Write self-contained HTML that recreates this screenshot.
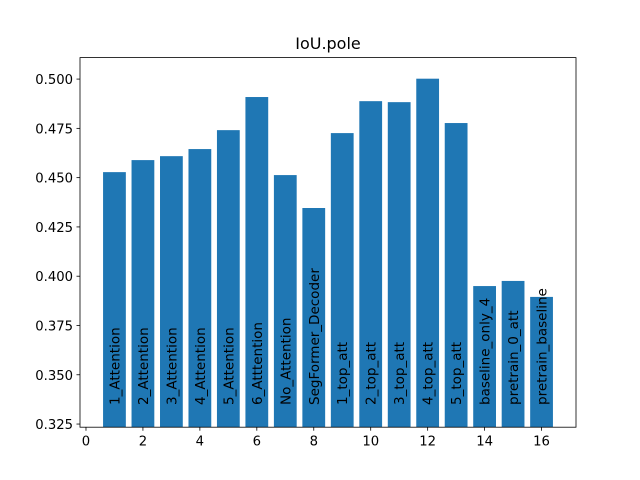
<!DOCTYPE html>
<html><head><meta charset="utf-8"><style>body{margin:0;background:#fff}svg{display:block;font-family:"DejaVu Sans","Liberation Sans",sans-serif}</style></head>
<body>
<svg id="chart" width="640" height="480" xmlns="http://www.w3.org/2000/svg">
<rect width="640" height="480" fill="#fff"/>
<text x="328" y="49" font-size="16" text-anchor="middle">IoU.pole</text>
<g id="bars"></g><g id="labels"></g><g id="axes"></g>
</svg>
<script>
const categories = ["1_Attention","2_Attention","3_Attention","4_Attention","5_Attention","6_Atttention","No_Attention","SegFormer_Decoder","1_top_att","2_top_att","3_top_att","4_top_att","5_top_att","baseline_only_4","pretrain_0_att","pretrain_baseline"];
const values = [0.4528,0.4589,0.4609,0.4645,0.4741,0.4909,0.4513,0.4346,0.4726,0.4888,0.4883,0.5002,0.4777,0.3950,0.3976,0.3895];
const yTicks = [0.325,0.350,0.375,0.400,0.425,0.450,0.475,0.500];
const xTicks = [0,2,4,6,8,10,12,14,16];
const L=80,R=576,T=57.6,B=427.2, xmin=-0.21,xmax=17.21, ymin=0.3234,ymax=0.5109;
const sx=v=>L+(v-xmin)/(xmax-xmin)*(R-L);
const sy=v=>B-(v-ymin)/(ymax-ymin)*(B-T);
const NS="http://www.w3.org/2000/svg";
function mk(tag,attrs,parent){const e=document.createElementNS(NS,tag);for(const k in attrs)e.setAttribute(k,attrs[k]);parent.appendChild(e);return e;}
const gb=document.getElementById('bars'),gl=document.getElementById('labels'),ga=document.getElementById('axes');
values.forEach((v,i)=>{
  const x=i+1;
  const r=mk('rect',{x:sx(x-0.4),y:sy(v),width:sx(x+0.4)-sx(x-0.4),height:B-sy(v),fill:'#1f77b4'},gb);
  
  
  const t=mk('text',{transform:`translate(${sx(x)+5},405) rotate(-90)`,'font-size':'13.5'},gl);
  t.textContent=categories[i];
  
  
});
const fr=mk('rect',{x:L,y:T,width:R-L,height:B-T,fill:'none',stroke:'#000','stroke-width':0.8},ga);


yTicks.forEach(v=>{
  mk('line',{x1:L-3.5,x2:L,y1:sy(v),y2:sy(v),stroke:'#000','stroke-width':0.8},ga);
  const t=mk('text',{x:L-7,y:sy(v)+5,'font-size':'13.2','text-anchor':'end'},ga);
  t.textContent=v.toFixed(3);
  
  
});
xTicks.forEach(v=>{
  mk('line',{x1:sx(v),x2:sx(v),y1:B,y2:B+3.5,stroke:'#000','stroke-width':0.8},ga);
  const t=mk('text',{x:sx(v),y:B+18.5,'font-size':'13.2','text-anchor':'middle'},ga);
  t.textContent=v;
  
  
});
</script>
</body></html>
